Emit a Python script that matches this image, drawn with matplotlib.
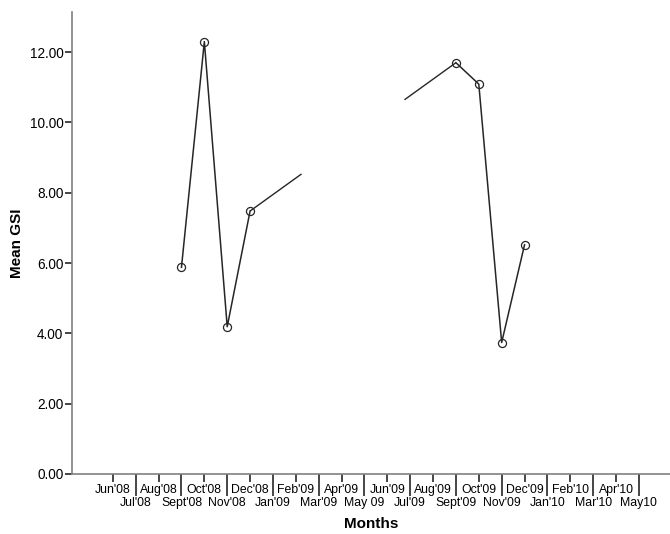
import numpy as np
import matplotlib
matplotlib.use('Agg')
import matplotlib.pyplot as plt

plt.rcParams['font.family'] = ['Liberation Sans', 'DejaVu Sans']

months = ["Jun'08", "Jul'08", "Aug'08", "Sept'08", "Oct'08", "Nov'08", "Dec'08", "Jan'09",
          "Feb'09", "Mar'09", "Apr'09", "May 09", "Jun'09", "Jul'09", "Aug'09", "Sept'09",
          "Oct'09", "Nov'09", "Dec'09", "Jan'10", "Feb'10", "Mar'10", "Apr'10", "May10"]
nan = np.nan
mean_gsi = [nan, nan, nan, 5.88, 12.30, 4.19, 7.48, nan,
            nan, nan, nan, nan, nan, nan, nan, 11.70,
            11.09, 3.74, 6.52, nan, nan, nan, nan, nan]

line_col = '#262626'
axis_col = '#808080'

fig = plt.figure(figsize=(6.70, 5.34), dpi=100)
ax = fig.add_axes([0.107, 0.1124, 0.893, 0.865])

x = np.arange(len(months))
y = np.array(mean_gsi)
ax.plot(x, y, color=line_col, lw=1.1, marker='o', ms=5.8, mfc='none',
        mec=line_col, mew=0.9, zorder=3)

ax.set_xlim(-1.8, len(months) - 1 + 1.36)
ax.set_ylim(0, 13.14)

# line across the missing months: only both ends of it are drawn
valid = np.where(~np.isnan(y))[0]
gaps = np.where(np.diff(valid) > 1)[0]
for g in gaps:
    i0, i1 = valid[g], valid[g + 1]
    p0 = ax.transData.transform((x[i0], y[i0]))
    p1 = ax.transData.transform((x[i1], y[i1]))
    seg = np.hypot(*(p1 - p0)) * 72 / fig.dpi
    ax.plot([x[i0], x[i1]], [y[i0], y[i1]], color=line_col, lw=1.0,
            dashes=(0.25 * seg, 0.5 * seg), dash_capstyle='butt', zorder=2)

# y axis
ax.set_yticks(np.arange(0, 13, 2))
ax.set_yticklabels(['%.2f' % v for v in np.arange(0, 13, 2)])
ax.tick_params(axis='y', length=5, width=1.2, color=line_col, labelsize=9.8, pad=1)

# x axis, staggered labels
ax.set_xticks(x[::2])
ax.set_xticklabels(months[::2])
ax.set_xticks(x[1::2], minor=True)
ax.set_xticklabels(months[1::2], minor=True)
ax.tick_params(axis='x', which='major', length=6, width=1.2, color=line_col,
               labelsize=8.8, pad=1.5)
ax.tick_params(axis='x', which='minor', length=16, width=1.2, color=line_col,
               labelsize=8.8, pad=0.5)

for s in ['top', 'right']:
    ax.spines[s].set_visible(False)
for s in ['left', 'bottom']:
    ax.spines[s].set_color(axis_col)
    ax.spines[s].set_linewidth(1.2)

ax.set_ylabel('Mean GSI', fontsize=11, fontweight='bold', labelpad=4)
ax.set_xlabel('Months', fontsize=11, fontweight='bold', labelpad=6)

fig.savefig('out.png', dpi=100)
